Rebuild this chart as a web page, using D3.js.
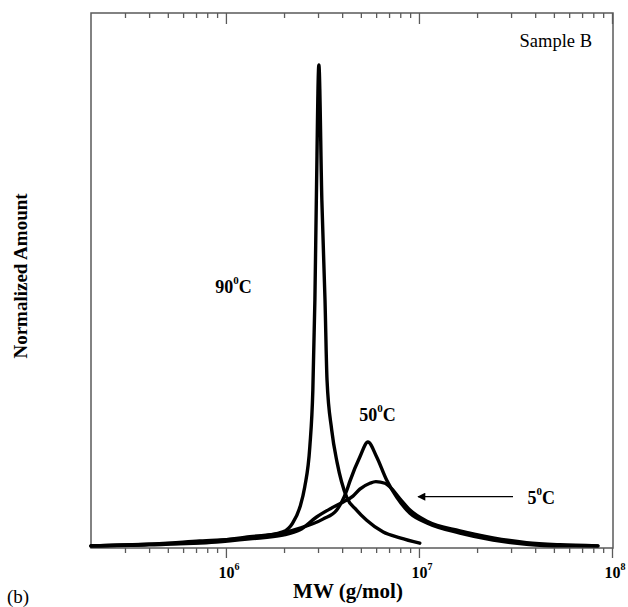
<!DOCTYPE html>
<html>
<head>
<meta charset="utf-8">
<script src="https://cdn.jsdelivr.net/npm/d3@7"></script>
<style>
  body { margin: 0; background: #fff; }
  svg { display: block; font-family: "Liberation Serif", "Times New Roman", serif; }
</style>
</head>
<body>
<div id="chart"></div>
<script>

// Molecular weight distributions, sample B, three temperatures
// values

var mw90 = [2.0e5, 4.0e5, 7.3e5, 1.33e6, 1.97e6, 2.22e6, 2.42e6, 2.56e6, 2.72e6, 2.82e6, 2.89e6, 2.94e6, 3.03e6,
            3.14e6, 3.26e6, 3.34e6, 3.53e6, 3.77e6, 4.22e6, 4.75e6, 5.36e6, 6.53e6, 7.97e6, 1.01e7];
var amount90 = [0.004, 0.007, 0.013, 0.019, 0.030, 0.047, 0.077, 0.114, 0.189, 0.295, 0.464, 0.650, 0.903,
                0.650, 0.464, 0.314, 0.221, 0.159, 0.095, 0.071, 0.052, 0.030, 0.019, 0.009];

var mw50 = [2.0e5, 4.0e5, 8.9e5, 1.33e6, 1.97e6, 2.42e6, 3.18e6, 3.75e6, 4.22e6, 4.39e6, 4.94e6, 5.44e6,
            6.04e6, 6.80e6, 7.66e6, 8.98e6, 1.10e7, 1.63e7, 2.42e7, 3.61e7, 5.38e7, 8.45e7];
var amount50 = [0.004, 0.007, 0.013, 0.021, 0.028, 0.037, 0.054, 0.071, 0.107, 0.125, 0.170, 0.198,
                0.170, 0.127, 0.095, 0.065, 0.047, 0.028, 0.015, 0.007, 0.004, 0.004];

var mw5 = [2.0e5, 4.0e5, 8.9e5, 1.33e6, 1.97e6, 2.42e6, 2.95e6, 3.46e6, 4.05e6, 4.55e6, 4.94e6, 5.57e6, 5.98e6,
           6.66e6, 7.08e6, 7.97e6, 8.98e6, 1.10e7, 1.63e7, 2.42e7, 3.61e7, 5.38e7, 8.45e7];
var amount5 = [0.004, 0.006, 0.011, 0.017, 0.024, 0.034, 0.058, 0.073, 0.086, 0.097, 0.110, 0.121, 0.124,
               0.121, 0.114, 0.092, 0.071, 0.050, 0.032, 0.019, 0.010, 0.006, 0.004];

var majorTicks = [1e6, 1e7, 1e8];
var majorExponents = ["6", "7", "8"];

// curve labels : [text, superscript, unit, mw, amount]
var curveLabels = [
    ["90", "0", "C", 8.8e5, 0.477],
    ["50", "0", "C", 4.9e6, 0.237],
    ["5",  "0", "C", 3.65e7, 0.083]
];
// arrow pointing at the 5C curve : [from mw, to mw, amount]
var arrowMw = [3.07e7, 9.9e6];
var arrowAmount = 0.096;


var chart = {

    settings : {
        width : 628,//px
        height : 607,//px
        left : 91,//px
        right : 612,//px
        top : 13,//px
        bottom : 548,//px
        frameColor : "#5a5a5a",
        lineWidth : 3.4,//px
    },

    draw : function(){

        var s = chart.settings;

        var svg = d3.select("#chart").append("svg")
            .attr("width", s.width)
            .attr("height", s.height);

        var x = d3.scaleLog().domain([2e5, 1e8]).range([s.left, s.right]);
        var y = d3.scaleLinear().domain([0, 1]).range([s.bottom, s.top]);

        // frame
        svg.append("rect")
            .attr("x", s.left).attr("y", s.top)
            .attr("width", s.right - s.left + 1)
            .attr("height", s.bottom - s.top)
            .attr("fill", "none")
            .attr("stroke", s.frameColor)
            .attr("stroke-width", 1.5);

        var minorTicks = x.ticks().filter(function(d){ return majorTicks.indexOf(d) < 0 && d > 2e5; });

        // bottom axis, ticks hang below the line
        svg.append("g")
            .attr("transform", "translate(0," + s.bottom + ")")
            .call(d3.axisBottom(x).tickValues(minorTicks).tickSize(5).tickFormat(""));
        svg.append("g")
            .attr("transform", "translate(0," + s.bottom + ")")
            .call(d3.axisBottom(x).tickValues(majorTicks).tickSize(10).tickFormat(""));

        // top axis, ticks point inside
        svg.append("g")
            .attr("transform", "translate(0," + s.top + ")")
            .call(d3.axisTop(x).tickValues(minorTicks).tickSize(-5).tickFormat(""));
        svg.append("g")
            .attr("transform", "translate(0," + s.top + ")")
            .call(d3.axisTop(x).tickValues(majorTicks).tickSize(-11).tickFormat(""));

        svg.selectAll(".domain").remove();
        svg.selectAll(".tick line")
            .attr("stroke", s.frameColor)
            .attr("stroke-width", 1.3);

        // tick labels 10^n
        var tl = svg.append("g").selectAll("text")
            .data(majorTicks)
            .enter().append("text")
            .attr("x", function(d){ return x(d) + 3; })
            .attr("y", 578)
            .attr("text-anchor", "middle")
            .attr("font-weight", "bold")
            .attr("font-size", "16px");
        tl.append("tspan").text("10");
        tl.append("tspan")
            .attr("font-size", "10px")
            .attr("dy", -8)
            .text(function(d, i){ return majorExponents[i]; });

        // curves
        var line = d3.line()
            .x(function(d){ return x(d[0]); })
            .y(function(d){ return y(d[1]); })
            .curve(d3.curveMonotoneX);

        var series = [
            d3.zip(mw5, amount5),
            d3.zip(mw50, amount50),
            d3.zip(mw90, amount90)
        ];

        svg.append("g").selectAll("path")
            .data(series)
            .enter().append("path")
            .attr("d", line)
            .attr("fill", "none")
            .attr("stroke", "#000")
            .attr("stroke-width", s.lineWidth)
            .attr("stroke-linejoin", "round")
            .attr("stroke-linecap", "round");

        // curve labels
        var cl = svg.append("g").selectAll("text")
            .data(curveLabels)
            .enter().append("text")
            .attr("x", function(d){ return x(d[3]); })
            .attr("y", function(d){ return y(d[4]); })
            .attr("font-weight", "bold")
            .attr("font-size", "18px");
        cl.append("tspan").text(function(d){ return d[0]; });
        cl.append("tspan")
            .attr("font-size", "11px")
            .attr("dy", -9)
            .text(function(d){ return d[1]; });
        cl.append("tspan")
            .attr("dy", 9)
            .text(function(d){ return d[2]; });

        // arrow
        svg.append("defs").append("marker")
            .attr("id", "arrowHead")
            .attr("viewBox", "0 0 10 10")
            .attr("refX", 9).attr("refY", 5)
            .attr("markerWidth", 11).attr("markerHeight", 8)
            .attr("markerUnits", "userSpaceOnUse")
            .attr("orient", "auto")
            .append("path")
            .attr("d", "M0,0 L10,5 L0,10 Z")
            .attr("fill", "#000");

        svg.append("line")
            .attr("x1", x(arrowMw[0])).attr("y1", y(arrowAmount))
            .attr("x2", x(arrowMw[1])).attr("y2", y(arrowAmount))
            .attr("stroke", "#000")
            .attr("stroke-width", 1.2)
            .attr("marker-end", "url(#arrowHead)");

        // texts
        svg.append("text")
            .attr("x", 592).attr("y", 47)
            .attr("text-anchor", "end")
            .attr("font-size", "18.5px")
            .text("Sample B");

        svg.append("text")
            .attr("x", 348).attr("y", 598)
            .attr("text-anchor", "middle")
            .attr("font-weight", "bold")
            .attr("font-size", "21px")
            .text("MW (g/mol)");

        svg.append("text")
            .attr("transform", "translate(27,276) rotate(-90)")
            .attr("text-anchor", "middle")
            .attr("font-weight", "bold")
            .attr("font-size", "19px")
            .text("Normalized Amount");

        svg.append("text")
            .attr("x", 7).attr("y", 603)
            .attr("font-size", "19px")
            .text("(b)");
    }
}

chart.draw();
</script>
</body>
</html>
